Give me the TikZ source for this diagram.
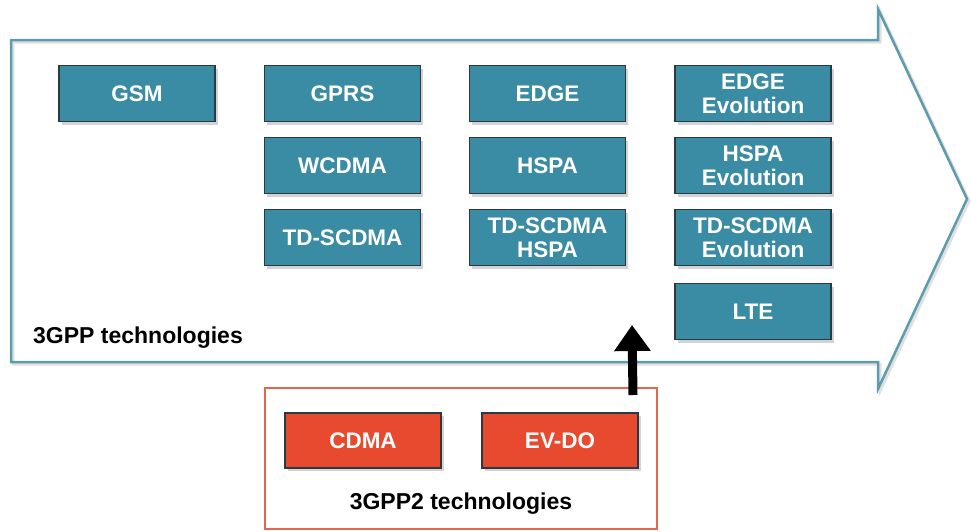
\documentclass[tikz,border=0pt]{standalone}
\usepackage{fontspec}
\setmainfont{Liberation Sans}
\usetikzlibrary{arrows.meta,shadows}

\definecolor{techteal}{HTML}{3A8BA4}
\definecolor{techred}{HTML}{E84A2F}
\definecolor{outlineteal}{HTML}{5C9CAE}
\definecolor{outlinered}{HTML}{E3674F}
\definecolor{boxedge}{HTML}{2B3A40}

\begin{document}
\begin{tikzpicture}[x=1pt, y=-1pt,
    techbox/.style={draw=boxedge, line width=1.2pt, fill=techteal, text=white,
      font=\fontsize{22.5}{23.5}\selectfont\bfseries, align=center,
      minimum width=156pt, minimum height=56pt, inner sep=0pt,
      drop shadow={shadow xshift=2.5pt, shadow yshift=-3pt, opacity=0.35}},
    cdmabox/.style={techbox, fill=techred},
    caption/.style={font=\fontsize{23}{24}\selectfont\bfseries, inner sep=0pt}]
    \useasboundingbox (0,0) rectangle (971,531);

    % 3GPP track arrow
    \draw[black, opacity=0.12, line width=3pt, shift={(2,2)}]
      (11,40) -- (878,40) -- (878,9) -- (967,199) -- (878,389) -- (878,362) -- (11,362) -- cycle;
    \draw[outlineteal, line width=2.5pt]
      (11,40) -- (878,40) -- (878,9) -- (967,199) -- (878,389) -- (878,362) -- (11,362) -- cycle;
    \node[caption, anchor=base west] (gpplabel) at (33,343) {3GPP technologies};

    \node[techbox] (gsm) at (137,93.5) {GSM};

    \node[techbox] (gprs) at (342.5,93.5) {GPRS};
    \node[techbox] (wcdma) at (342.5,165.5) {WCDMA};
    \node[techbox] (tdscdma) at (342.5,237.5) {TD-SCDMA};

    \node[techbox] (edge) at (547.5,93.5) {EDGE};
    \node[techbox] (hspa) at (547.5,165.5) {HSPA};
    \node[techbox] (tdhspa) at (547.5,237.5) {TD-SCDMA\\HSPA};

    \node[techbox] (edgeevo) at (753,93.5) {EDGE\\Evolution};
    \node[techbox] (hspaevo) at (753,165.5) {HSPA\\Evolution};
    \node[techbox] (tdevo) at (753,237.5) {TD-SCDMA\\Evolution};
    \node[techbox] (lte) at (753,311.5) {LTE};

    % 3GPP2 group
    \node[draw=outlinered, line width=2pt, minimum width=392pt, minimum height=141pt,
      inner sep=0pt] (gpptwo) at (461,458.5) {};
    \node[cdmabox, minimum height=55pt] (cdma) at (363,440.5) {CDMA};
    \node[cdmabox, minimum height=55pt] (evdo) at (560,440.5) {EV-DO};
    \node[caption, anchor=base] (gpptwolabel) at (461,509) {3GPP2 technologies};

    \coordinate (merge) at (632,325);
    \draw[-{Triangle[width=35pt,length=26pt]}, line width=9pt]
      ([xshift=-25pt, yshift=-8pt]gpptwo.north east) -- (merge);
  \end{tikzpicture}
\end{document}
